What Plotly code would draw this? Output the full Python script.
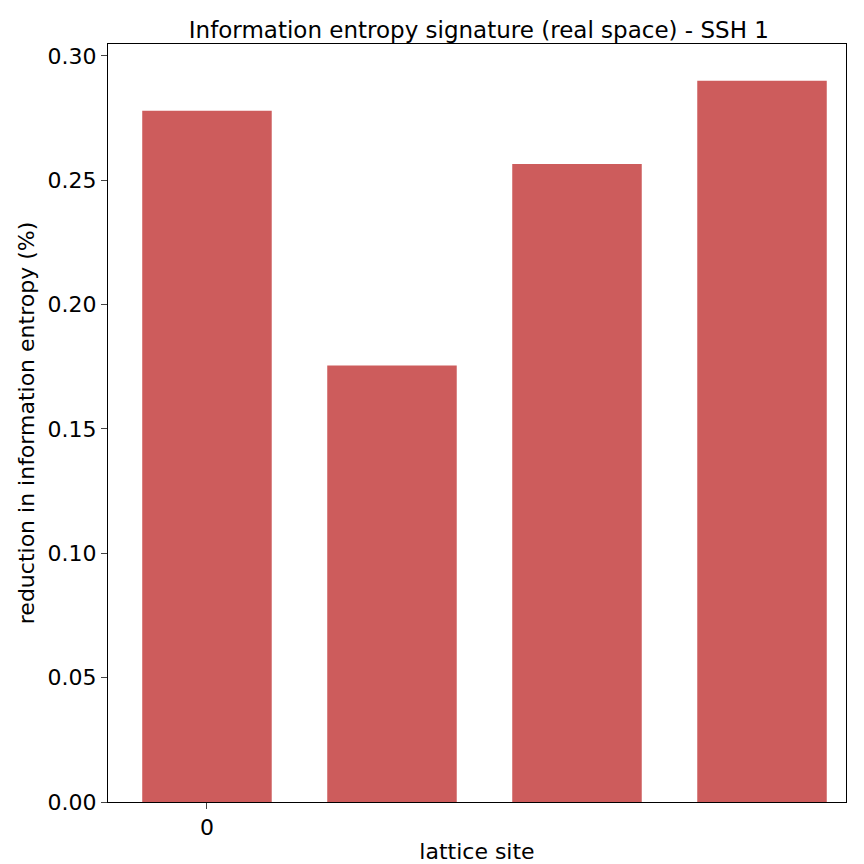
import plotly.graph_objects as go

sites = [0, 1, 2, 3]
values = [0.278, 0.1755, 0.2565, 0.290]
tick_vals = [0]
tick_text = ["0"]

fig = go.Figure(go.Bar(x=sites, y=values, width=0.7, marker_color="#CD5C5C", marker_line_width=0))
fig.update_layout(
    width=864, height=864, plot_bgcolor="white", paper_bgcolor="white",
    margin=dict(l=100, r=26, t=36, b=70, autoexpand=False),
    title=dict(text="Information entropy signature (real space) - SSH 1", x=0.545, xanchor="center", y=0.975, yanchor="middle",
               font=dict(family="DejaVu Sans", size=23, color="black")),
    font=dict(family="DejaVu Sans", size=22, color="black"),
    showlegend=False,
)
fig.update_xaxes(range=[-0.535, 3.454], tickvals=tick_vals, ticktext=tick_text, showline=True, mirror=True,
                 linecolor="black", linewidth=1, ticks="outside", ticklen=6, showgrid=False, automargin=False,
                 tickfont=dict(size=22), title=dict(text="lattice site", standoff=4, font=dict(size=22)))
fig.update_yaxes(range=[0, 0.3048], dtick=0.05, tickformat=".2f", showline=True, mirror=True,
                 linecolor="black", linewidth=1, ticks="outside", ticklen=6, showgrid=False, zeroline=False,
                 automargin=False, tickfont=dict(size=22),
                 title=dict(text="reduction in information entropy (%)", standoff=6, font=dict(size=22)))
fig.write_html("out.html")
